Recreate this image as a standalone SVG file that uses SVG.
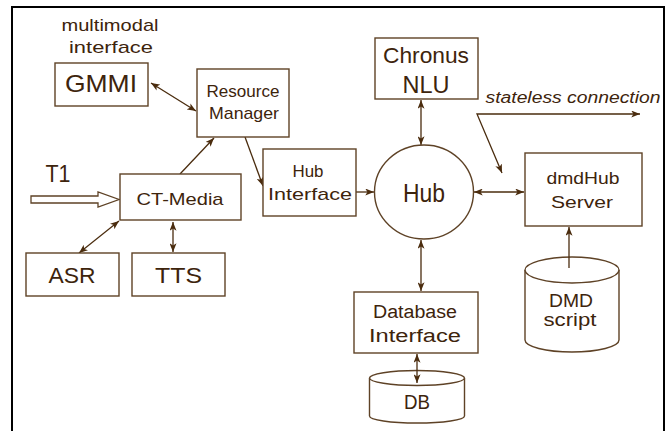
<svg xmlns="http://www.w3.org/2000/svg" width="669" height="431" viewBox="0 0 669 431">
<defs>
<style>
.box{fill:#fff;stroke:#5e4226;stroke-width:1.4}
.t{font-family:"Liberation Sans",Arial,sans-serif;fill:#3d240c;text-anchor:middle}
.c{fill:none;stroke:#4a2c0e;stroke-width:1.3}
</style>
<marker id="ah" viewBox="0 0 10 8" refX="10" refY="4" markerWidth="9" markerHeight="7" orient="auto-start-reverse" markerUnits="userSpaceOnUse">
<path d="M0,0 L10,4 L0,8 L2.5,4 z" fill="#4a2c0e"/>
</marker>
</defs>
<rect width="669" height="431" fill="#fff"/>
<rect x="12" y="7" width="652" height="440" fill="none" stroke="#000" stroke-width="2"/>

<g id="connectors">
<line class="c" x1="151" y1="83" x2="196" y2="111" marker-start="url(#ah)" marker-end="url(#ah)"/>
<line class="c" x1="180" y1="174" x2="214" y2="138" marker-end="url(#ah)"/>
<line class="c" x1="245" y1="137" x2="263" y2="186" marker-end="url(#ah)"/>
<line class="c" x1="356" y1="192" x2="374" y2="192" marker-end="url(#ah)"/>
<line class="c" x1="421" y1="100" x2="421" y2="145" marker-start="url(#ah)" marker-end="url(#ah)"/>
<line class="c" x1="474" y1="192" x2="524" y2="192" marker-start="url(#ah)" marker-end="url(#ah)"/>
<line class="c" x1="421" y1="240" x2="421" y2="291" marker-start="url(#ah)" marker-end="url(#ah)"/>
<line class="c" x1="119" y1="221" x2="79" y2="253" marker-start="url(#ah)" marker-end="url(#ah)"/>
<line class="c" x1="173" y1="222" x2="173" y2="252" marker-start="url(#ah)" marker-end="url(#ah)"/>
<polyline class="c" points="640,114 477,114 502,173" marker-start="url(#ah)" marker-end="url(#ah)"/>
</g>

<g id="label-multimodal">
<text class="t" x="110" y="31" font-size="17" textLength="97" lengthAdjust="spacingAndGlyphs">multimodal</text>
<text class="t" x="111" y="53" font-size="17" textLength="84" lengthAdjust="spacingAndGlyphs">interface</text>
</g>

<g id="gmmi">
<rect class="box" x="55" y="63" width="93" height="43"/>
<text class="t" x="101" y="92" font-size="24" textLength="72" lengthAdjust="spacingAndGlyphs">GMMI</text>
</g>

<g id="resource-manager">
<rect class="box" x="197" y="69" width="92" height="68"/>
<text class="t" x="243" y="97" font-size="17" textLength="73" lengthAdjust="spacingAndGlyphs">Resource</text>
<text class="t" x="244" y="119" font-size="17" textLength="70" lengthAdjust="spacingAndGlyphs">Manager</text>
</g>

<g id="t1">
<text class="t" x="58" y="182" font-size="23" textLength="25" lengthAdjust="spacingAndGlyphs">T1</text>
<polygon points="31,196 98,196 98,192 119,199.5 98,207 98,203 31,203" fill="#fff" stroke="#5e4226" stroke-width="1.3"/>
</g>

<g id="ct-media">
<rect class="box" x="120" y="174" width="121" height="46"/>
<text class="t" x="180" y="205" font-size="17" textLength="87" lengthAdjust="spacingAndGlyphs">CT-Media</text>
</g>

<g id="asr">
<rect class="box" x="26" y="253" width="93" height="43"/>
<text class="t" x="72" y="283" font-size="22" textLength="47" lengthAdjust="spacingAndGlyphs">ASR</text>
</g>

<g id="tts">
<rect class="box" x="132" y="253" width="93" height="43"/>
<text class="t" x="178.5" y="283" font-size="22" textLength="47" lengthAdjust="spacingAndGlyphs">TTS</text>
</g>

<g id="hub-interface">
<rect class="box" x="263" y="149" width="93" height="67"/>
<text class="t" x="308" y="177" font-size="17" textLength="31" lengthAdjust="spacingAndGlyphs">Hub</text>
<text class="t" x="310" y="200" font-size="17" textLength="84" lengthAdjust="spacingAndGlyphs">Interface</text>
</g>

<g id="hub">
<ellipse cx="424" cy="192" rx="49.5" ry="47" fill="#fff" stroke="#5e4226" stroke-width="1.4"/>
<text class="t" x="424" y="202" font-size="26" textLength="42" lengthAdjust="spacingAndGlyphs">Hub</text>
</g>

<g id="chronus-nlu">
<rect class="box" x="375" y="38" width="103" height="61"/>
<text class="t" x="426" y="63" font-size="22" textLength="86" lengthAdjust="spacingAndGlyphs">Chronus</text>
<text class="t" x="426" y="93" font-size="24" textLength="47" lengthAdjust="spacingAndGlyphs">NLU</text>
</g>

<g id="label-stateless">
<text class="t" x="573" y="103" font-size="16" font-style="italic" textLength="175" lengthAdjust="spacingAndGlyphs">stateless connection</text>
</g>

<g id="dmdhub-server">
<rect class="box" x="525" y="153" width="117" height="73"/>
<text class="t" x="583" y="184" font-size="17" textLength="73" lengthAdjust="spacingAndGlyphs">dmdHub</text>
<text class="t" x="582" y="208" font-size="17" textLength="62" lengthAdjust="spacingAndGlyphs">Server</text>
</g>

<g id="database-interface">
<rect class="box" x="354" y="292" width="124" height="61"/>
<text class="t" x="415" y="318" font-size="18" textLength="84" lengthAdjust="spacingAndGlyphs">Database</text>
<text class="t" x="415" y="342" font-size="18" textLength="92" lengthAdjust="spacingAndGlyphs">Interface</text>
</g>

<g id="db">
<path d="M369.5,378 L369.5,416 A47.5,7 0 0 0 464.5,416 L464.5,378" fill="#fff" stroke="#5e4226" stroke-width="1.4"/>
<ellipse cx="417" cy="378" rx="47.5" ry="7.5" fill="#fff" stroke="#5e4226" stroke-width="1.4"/>
<text class="t" x="417" y="409" font-size="20" textLength="26" lengthAdjust="spacingAndGlyphs">DB</text>
</g>

<g id="dmd-script">
<path d="M525,270 L525,340 A47,12 0 0 0 619,340 L619,270" fill="#fff" stroke="#5e4226" stroke-width="1.4"/>
<ellipse cx="572" cy="270" rx="47" ry="13" fill="#fff" stroke="#5e4226" stroke-width="1.4"/>
<text class="t" x="571" y="307" font-size="19" textLength="44" lengthAdjust="spacingAndGlyphs">DMD</text>
<text class="t" x="570" y="326" font-size="19" textLength="53" lengthAdjust="spacingAndGlyphs">script</text>
</g>

<g id="overlay-connectors">
<line class="c" x1="417" y1="354" x2="417" y2="383" marker-start="url(#ah)" marker-end="url(#ah)"/>
<line class="c" x1="569" y1="268" x2="569" y2="227" marker-end="url(#ah)"/>
</g>
</svg>
